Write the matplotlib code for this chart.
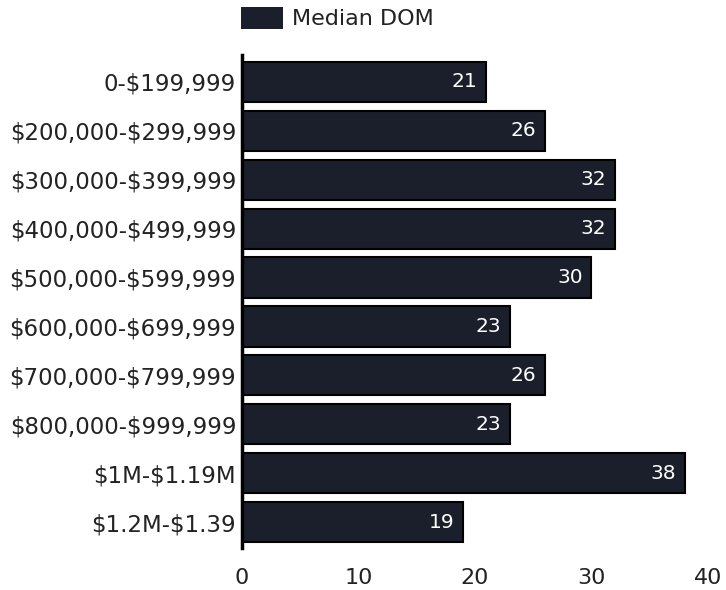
import matplotlib.pyplot as plt
from matplotlib.patches import Patch

plt.rcParams["text.parse_math"] = False

price_ranges = [
    "0-$199,999",
    "$200,000-$299,999",
    "$300,000-$399,999",
    "$400,000-$499,999",
    "$500,000-$599,999",
    "$600,000-$699,999",
    "$700,000-$799,999",
    "$800,000-$999,999",
    "$1M-$1.19M",
    "$1.2M-$1.39",
]
median_dom = [21, 26, 32, 32, 30, 23, 26, 23, 38, 19]

bar_color = "#1b1f2b"
font = "DejaVu Sans"
text_color = "#222222"

fig = plt.figure(figsize=(7.26, 5.9), dpi=100)
ax = fig.add_axes([0.333, 0.071, 0.642, 0.836])

y = list(range(len(price_ranges)))
bars = ax.barh(y, median_dom, height=0.82, color=bar_color,
               edgecolor="black", linewidth=1.5)

# value labels sit inside the right end of each bar
for b, v in zip(bars, median_dom):
    ax.text(b.get_width() - 0.75, b.get_y() + b.get_height() / 2, str(v),
            ha="right", va="center", color="white", fontsize=14.5,
            family=font)

ax.set_ylim(len(price_ranges) - 0.47, -0.55)
ax.set_xlim(0, 40)
ax.set_xticks([0, 10, 20, 30, 40])
ax.set_yticks(y)
ax.set_yticklabels(price_ranges, family=font, fontsize=16.5, color=text_color)
for lbl in ax.get_xticklabels():
    lbl.set_family(font)
    lbl.set_fontsize(16)
    lbl.set_color(text_color)

ax.tick_params(axis="both", length=0)
ax.tick_params(axis="y", pad=4)
ax.tick_params(axis="x", pad=14)
for side in ["top", "right", "bottom"]:
    ax.spines[side].set_visible(False)
ax.spines["left"].set_linewidth(2.5)
ax.spines["left"].set_color("black")

handle = Patch(facecolor=bar_color, edgecolor="none")
leg = ax.legend([handle], ["Median DOM"], loc="lower left",
                bbox_to_anchor=(-0.002, 1.052), frameon=False,
                prop={"family": font, "size": 16},
                handlelength=1.9, handleheight=1.15, handletextpad=0.4,
                borderaxespad=0, borderpad=0)
for t in leg.get_texts():
    t.set_color(text_color)

fig.savefig("out.png", dpi=100, facecolor="white")
